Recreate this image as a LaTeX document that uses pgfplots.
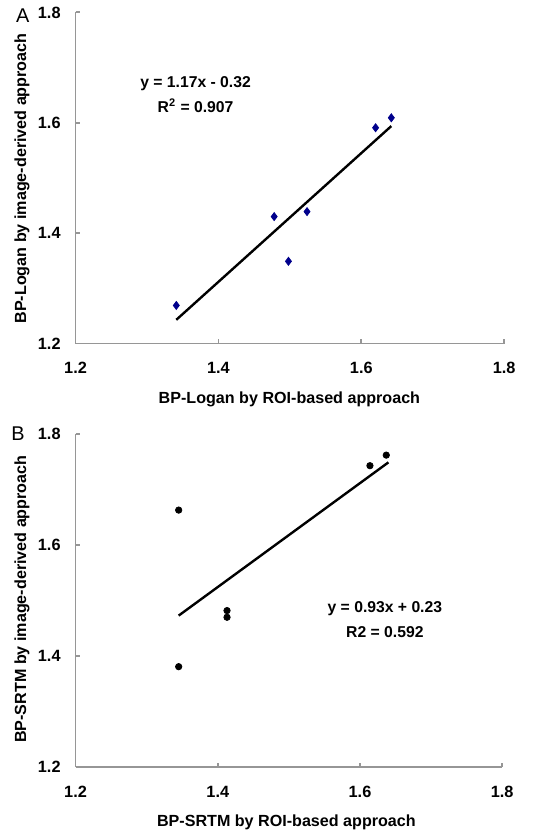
\documentclass[border=0pt]{standalone}
\usepackage{fontspec}
\setmainfont{Liberation Sans}
\usepackage{pgfplots}
\pgfplotsset{compat=1.18}

\definecolor{axgray}{RGB}{150,150,150}
\definecolor{ptnavy}{RGB}{0,0,140}

\pgfplotsset{
  panel/.style={
    scale only axis,
    anchor=south west,
    xmin=1.2, xmax=1.8, ymin=1.2, ymax=1.8,
    xtick={1.2,1.4,1.6,1.8}, ytick={1.2,1.4,1.6,1.8},
    axis lines*=left,
    axis line style={axgray, line width=0.9pt, -},
    tick style={axgray, line width=0.9pt},
    tick align=inside,
    major tick length=2.2pt,
    tick label style={font=\fontsize{8.2}{10}\selectfont\bfseries},
    /pgf/number format/assume math mode=true,
    /pgf/number format/fixed,
    /pgf/number format/precision=1,
    /pgf/number format/fixed zerofill,
    xticklabel style={yshift=-6pt},
    yticklabel style={xshift=-4pt},
    clip=false,
  }
}

\begin{document}
\begin{tikzpicture}
\path (0pt,0pt) rectangle (269pt,418pt);

% panel A
\begin{axis}[panel, at={(38pt,246pt)}, width=215.5pt, height=166.5pt]
\addplot[only marks, mark=diamond*, mark size=2pt, color=ptnavy] coordinates {
  (1.341,1.269) (1.478,1.430) (1.498,1.349) (1.524,1.439) (1.620,1.591) (1.642,1.609)
};
\addplot[black, line width=1.2pt] coordinates {(1.341,1.243) (1.642,1.594)};
\node[font=\fontsize{7.9}{9.5}\selectfont\bfseries, align=center] at (axis cs:1.368,1.651)
  {y = 1.17x - 0.32\\[3pt] R$^{\mathbf{2}}$ = 0.907};
\end{axis}
\node[font=\fontsize{10}{11}\selectfont] at (11.5pt,411pt) {A};
\node[font=\fontsize{8.1}{10}\selectfont\bfseries, rotate=90] at (11pt,329pt) {BP-Logan by image-derived approach};
\node[font=\fontsize{8.1}{10}\selectfont\bfseries] at (145.5pt,218pt) {BP-Logan by ROI-based approach};

% panel B
\begin{axis}[panel, at={(38pt,33pt)}, width=214.5pt, height=167.5pt]
\addplot[only marks, mark=*, mark size=1.6pt, color=black] coordinates {
  (1.345,1.663) (1.345,1.381) (1.413,1.482) (1.413,1.470) (1.614,1.743) (1.637,1.762)
};
\addplot[black, line width=1.2pt] coordinates {(1.345,1.473) (1.640,1.749)};
\node[font=\fontsize{7.9}{9.5}\selectfont\bfseries, align=center] at (axis cs:1.635,1.466)
  {y = 0.93x + 0.23\\[3pt] R2 = 0.592};
\end{axis}
\node[font=\fontsize{10}{11}\selectfont] at (9pt,200.5pt) {B};
\node[font=\fontsize{8.1}{10}\selectfont\bfseries, rotate=90] at (11pt,117.5pt) {BP-SRTM by image-derived approach};
\node[font=\fontsize{8.1}{10}\selectfont\bfseries] at (144pt,5.5pt) {BP-SRTM by ROI-based approach};
\end{tikzpicture}
\end{document}
